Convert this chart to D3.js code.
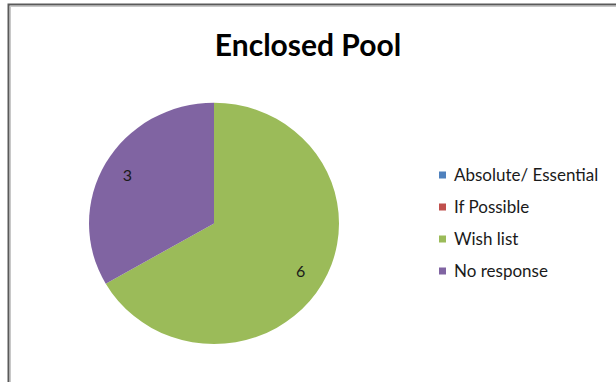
<!DOCTYPE html>
<html>
<head>
<meta charset="utf-8">
<script src="https://cdn.jsdelivr.net/npm/d3@7"></script>
<style>
  html, body { margin: 0; padding: 0; background: #fff; }
  svg { display: block; }
</style>
</head>
<body>
<svg id="chart" width="616" height="382"></svg>
<script>
// Survey responses for the enclosed pool
const categories = ["Absolute/ Essential", "If Possible", "Wish list", "No response"];
const values = [0, 0, 6, 3];
const colors = ["#4F81BD", "#C0504D", "#9BBB59", "#8064A2"];
const title = "Enclosed Pool";

const svg = d3.select("#chart");
const W = 616, H = 382;

// chart frame (open on the right and bottom edges)
svg.append("rect")
  .attr("x", 8.5).attr("y", 4.5)
  .attr("width", W + 20).attr("height", H + 20)
  .attr("fill", "#fff")
  .attr("stroke", "#5a5a5a")
  .attr("stroke-width", 2);
svg.append("rect")
  .attr("x", 10.5).attr("y", 6.5)
  .attr("width", W + 20).attr("height", H + 20)
  .attr("fill", "none")
  .attr("stroke", "#c8c8c8")
  .attr("stroke-width", 1);

// title
svg.append("text")
  .attr("x", 308).attr("y", 56)
  .attr("text-anchor", "middle")
  .attr("font-family", "Lato, 'Open Sans', sans-serif")
  .attr("font-weight", "bold")
  .attr("font-size", 30)
  .attr("fill", "#000")
  .text(title);

// pie
const cx = 214, cy = 223.4, r = 120.7, sx = 125 / 120.7;
const data = categories.map((c, i) => ({ name: c, value: values[i], color: colors[i] }));
const pie = d3.pie().value(d => d.value).sort(null);
const arcs = pie(data);
const arc = d3.arc().innerRadius(0).outerRadius(r);
const labelArc = d3.arc().innerRadius(r * 0.8).outerRadius(r * 0.8);

const g = svg.append("g").attr("transform", `translate(${cx},${cy}) scale(${sx},1)`);
g.selectAll("path")
  .data(arcs.filter(a => a.value > 0))
  .join("path")
  .attr("d", arc)
  .attr("fill", d => d.data.color);

svg.append("g").attr("transform", `translate(${cx},${cy})`)
  .selectAll("text")
  .data(arcs.filter(a => a.value > 0))
  .join("text")
  .attr("x", d => labelArc.centroid(d)[0] * sx)
  .attr("y", d => labelArc.centroid(d)[1])
  .attr("dy", "0.35em")
  .attr("text-anchor", "middle")
  .attr("font-family", "Lato, 'Open Sans', sans-serif")
  .attr("font-size", 16)
  .attr("fill", "#1a1a1a")
  .text(d => d.data.value);

// legend
const legendY = d3.scalePoint().domain(categories).range([175, 271]);
const legend = svg.append("g");
const rows = legend.selectAll("g")
  .data(data)
  .join("g")
  .attr("transform", d => `translate(439,${legendY(d.name)})`);
rows.append("rect")
  .attr("x", 0).attr("y", -3.5)
  .attr("width", 7).attr("height", 7)
  .attr("fill", d => d.color);
rows.append("text")
  .attr("x", 15).attr("y", 0)
  .attr("dy", "0.35em")
  .attr("font-family", "Lato, 'Open Sans', sans-serif")
  .attr("font-size", 17)
  .attr("fill", "#1a1a1a")
  .text(d => d.name);
</script>
</body>
</html>
